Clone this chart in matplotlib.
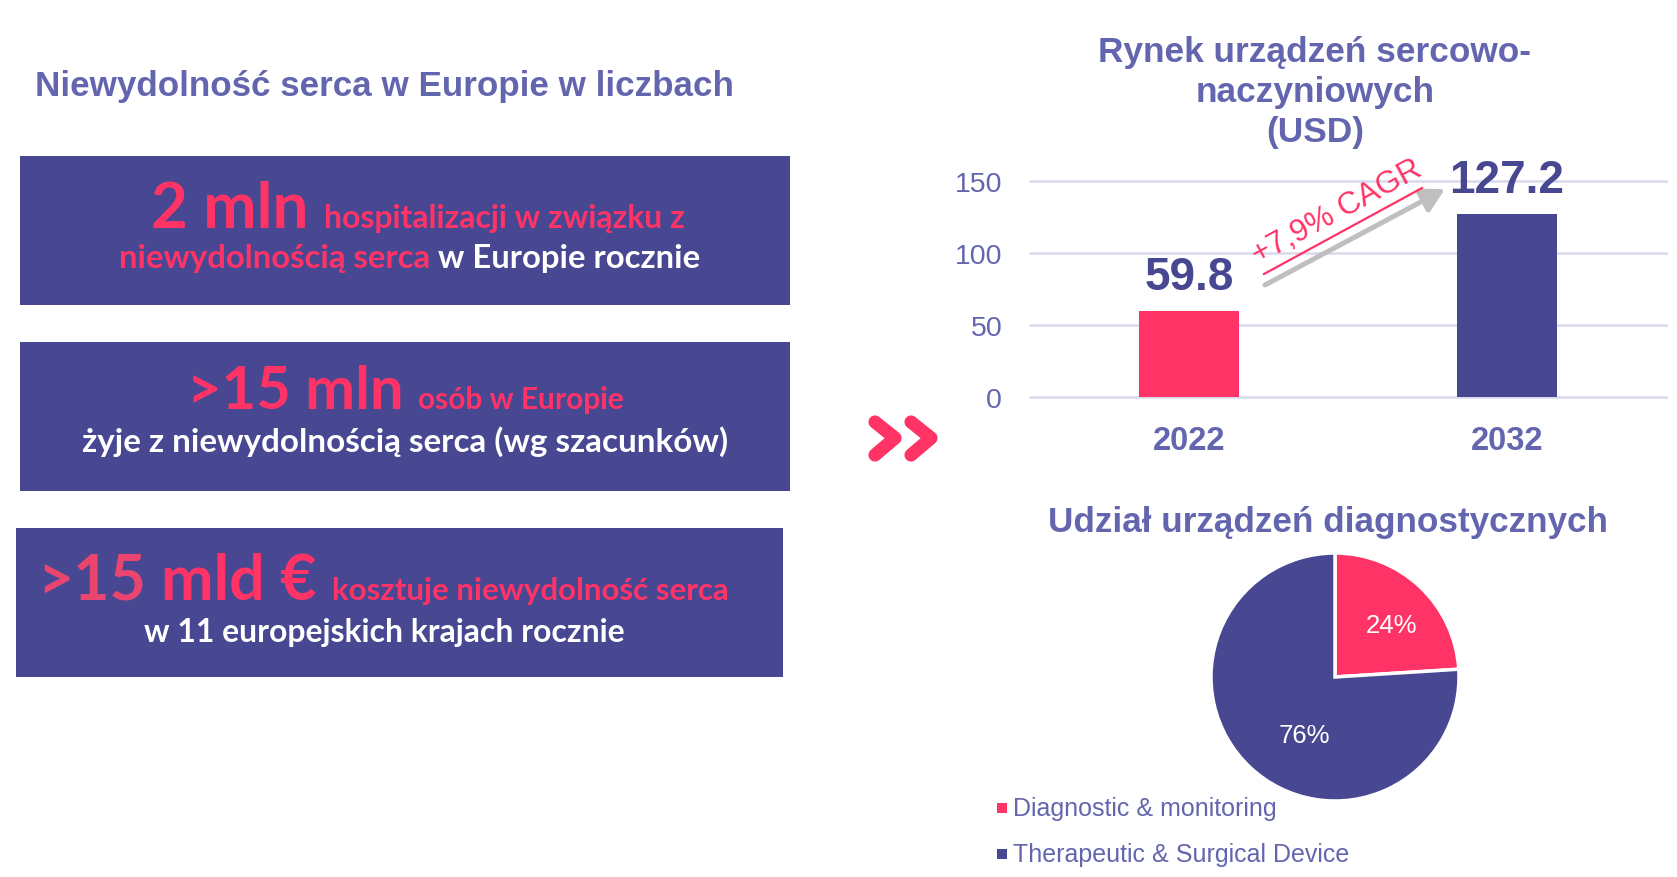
import math
import matplotlib
matplotlib.use("Agg")
import matplotlib.pyplot as plt
from matplotlib.patches import Rectangle, FancyArrowPatch
from matplotlib.lines import Line2D

# ---------------- data ----------------
years = ["2022", "2032"]
market_usd = [59.8, 127.2]
yticks = [0, 50, 100, 150]
cagr_label = "+7,9% CAGR"
share_labels = ["Diagnostic & monitoring", "Therapeutic & Surgical Device"]
share_values = [24, 76]

main_title = "Niewydolność serca w Europie w liczbach"
bar_title = ["Rynek urządzeń sercowo-", "naczyniowych", "(USD)"]
pie_title = "Udział urządzeń diagnostycznych"

# ---------------- style ----------------
PINK = "#FF3366"
PINK2 = "#E9456E"
INDIGO = "#484792"
TITLE = "#6366AF"
GRID = "#D9D9EE"
WHITE = "#FFFFFF"
ARIAL = ["Liberation Sans", "DejaVu Sans"]
BOXFONT = ["Lato", "DejaVu Sans"]

W, H, DPI = 1677, 878, 100
fig = plt.figure(figsize=(W / DPI, H / DPI), dpi=DPI)
fig.patch.set_facecolor("white")


def fx(x):
    return x / W


def fy(y):
    return 1 - y / H


# ---------------- bar chart ----------------
ax = fig.add_axes([fx(1030), fy(398), (1666 - 1030) / W, (398 - 182) / H])
xs = list(range(len(years)))
ax.bar(xs, market_usd, width=0.314, color=[PINK, INDIGO], zorder=3)
ax.set_xlim(-0.5, 1.5)
ax.set_ylim(0, 150)
ax.set_yticks(yticks)
ax.set_xticks(xs)
ax.set_xticklabels(years, fontweight="bold", fontsize=23.5, color=TITLE, family=ARIAL)
for lbl in ax.get_yticklabels():
    lbl.set_family(ARIAL)
ax.tick_params(axis="y", length=0, pad=20, labelsize=20.5, labelcolor=TITLE)
ax.tick_params(axis="x", length=0, pad=20)
ax.yaxis.grid(True, color=GRID, lw=1.8, zorder=0)
ax.set_axisbelow(True)
for gl in ax.get_ygridlines():
    gl.set_clip_on(False)
for s in ax.spines.values():
    s.set_visible(False)
ax.patch.set_alpha(0)
for x, v in zip(xs, market_usd):
    ax.annotate(f"{v:.1f}", xy=(x, v), xytext=(0, 16), textcoords="offset points",
                ha="center", va="baseline", fontsize=33, fontweight="bold",
                color=INDIGO, family=ARIAL, annotation_clip=False)

# ---------------- pie chart ----------------
R = 124
PCX, PCY = 1335, 678
ax2 = fig.add_axes([fx(PCX - R), fy(PCY + R), 2 * R / W, 2 * R / H])
wedges, _, autotexts = ax2.pie(
    share_values, colors=[PINK, INDIGO], startangle=90, counterclock=False,
    wedgeprops=dict(edgecolor="white", linewidth=2.5),
    autopct=lambda p: f"{p:.0f}%", pctdistance=0.6,
    textprops=dict(color="white", fontsize=18.5, family=ARIAL))
# label placement (radius fraction, angle in degrees) as in the original layout
for t, (rf, ang) in zip(autotexts, [(0.62, 43), (0.53, -118)]):
    t.set_position((rf * math.cos(math.radians(ang)), rf * math.sin(math.radians(ang))))
ax2.set_xlim(-1, 1)
ax2.set_ylim(-1, 1)
ax2.set_aspect("equal")

# ---------------- overlay (pixel coordinates) ----------------
ov = fig.add_axes([0, 0, 1, 1])
ov.set_xlim(0, W)
ov.set_ylim(H, 0)
ov.axis("off")
ov.patch.set_alpha(0)
ov.set_zorder(5)

renderer = fig.canvas.get_renderer()

# titles
ov.text(35, 96, main_title, fontsize=25.2, fontweight="bold", color=TITLE,
        family=ARIAL, ha="left", va="baseline")
for line, yb in zip(bar_title, [62, 102, 142]):
    ov.text(1315, yb, line, fontsize=25.4, fontweight="bold", color=TITLE,
            family=ARIAL, ha="center", va="baseline")
ov.text(1328, 532, pie_title, fontsize=25.3, fontweight="bold", color=TITLE,
        family=ARIAL, ha="center", va="baseline")

# boxes
for (x0, y0, x1, y1) in [(20, 157, 790, 306), (20, 343, 790, 492), (16, 529, 783, 678)]:
    ov.add_patch(Rectangle((x0, y0), x1 - x0, y1 - y0, color=INDIGO, lw=0))


def text_w(s, size):
    t = ov.text(0, 0, s, fontsize=size, fontweight="bold", family=BOXFONT)
    w = t.get_window_extent(renderer).width
    t.remove()
    return w


def space_w(size):
    return text_w("a a", size) - text_w("aa", size)


def rich_line(pieces, xc, yb, target_w):
    def measure(scale):
        ws = [text_w(s, sz * scale) for s, c, sz in pieces]
        gaps = [space_w(pieces[i][2] * scale) for i in range(len(pieces) - 1)]
        return ws, gaps
    ws, gaps = measure(1.0)
    scale = target_w / (sum(ws) + sum(gaps))
    ws, gaps = measure(scale)
    x = xc - (sum(ws) + sum(gaps)) / 2
    for i, (s, c, sz) in enumerate(pieces):
        ov.text(x, yb, s, fontsize=sz * scale, fontweight="bold", family=BOXFONT,
                color=c, ha="left", va="baseline")
        x += ws[i] + (gaps[i] if i < len(gaps) else 0)


rich_line([("2 mln", PINK, 40), ("hospitalizacji w związku z", PINK, 20)], 418, 228, 533)
rich_line([("niewydolnością serca", PINK, 20), ("w Europie rocznie", WHITE, 20)], 410, 268, 581)
rich_line([(">15 mln", PINK, 40), ("osób w Europie", PINK, 20)], 405, 409, 437)
rich_line([("żyje z niewydolnością serca (wg szacunków)", WHITE, 20)], 405, 452, 646)
rich_line([(">15", PINK2, 40), ("mld €", PINK, 40), ("kosztuje niewydolność serca", PINK, 20)], 383, 600, 692)
rich_line([("w 11 europejskich krajach rocznie", WHITE, 20)], 384, 642, 481)

# chevrons
for dx in [0, 36]:
    ov.add_line(Line2D([875 + dx, 895 + dx, 875 + dx], [423, 439, 456], color=PINK,
                       lw=9.5, solid_capstyle="round", solid_joinstyle="round"))

# CAGR arrow and label
ov.add_patch(FancyArrowPatch((1265, 286), (1445, 190),
                             arrowstyle="-|>,head_length=0.7,head_width=0.38",
                             mutation_scale=20, color="#BFBFBF", lw=3.6,
                             shrinkA=0, shrinkB=0))
ov.text(1337, 213, cagr_label, rotation=28.5, rotation_mode="anchor",
        ha="center", va="center", color=PINK, fontsize=22.5, family=ARIAL)
ov.add_line(Line2D([1264, 1422], [275, 189], color=PINK, lw=1.6))

# legend
for lab, col, yc in zip(share_labels, [PINK, INDIGO], [809, 855]):
    ov.add_patch(Rectangle((997, yc - 5), 10, 10, color=col, lw=0))
    ov.text(1013, yc, lab, fontsize=18, color=TITLE, family=ARIAL,
            ha="left", va="center")

fig.savefig("out.png", dpi=DPI, facecolor="white")
